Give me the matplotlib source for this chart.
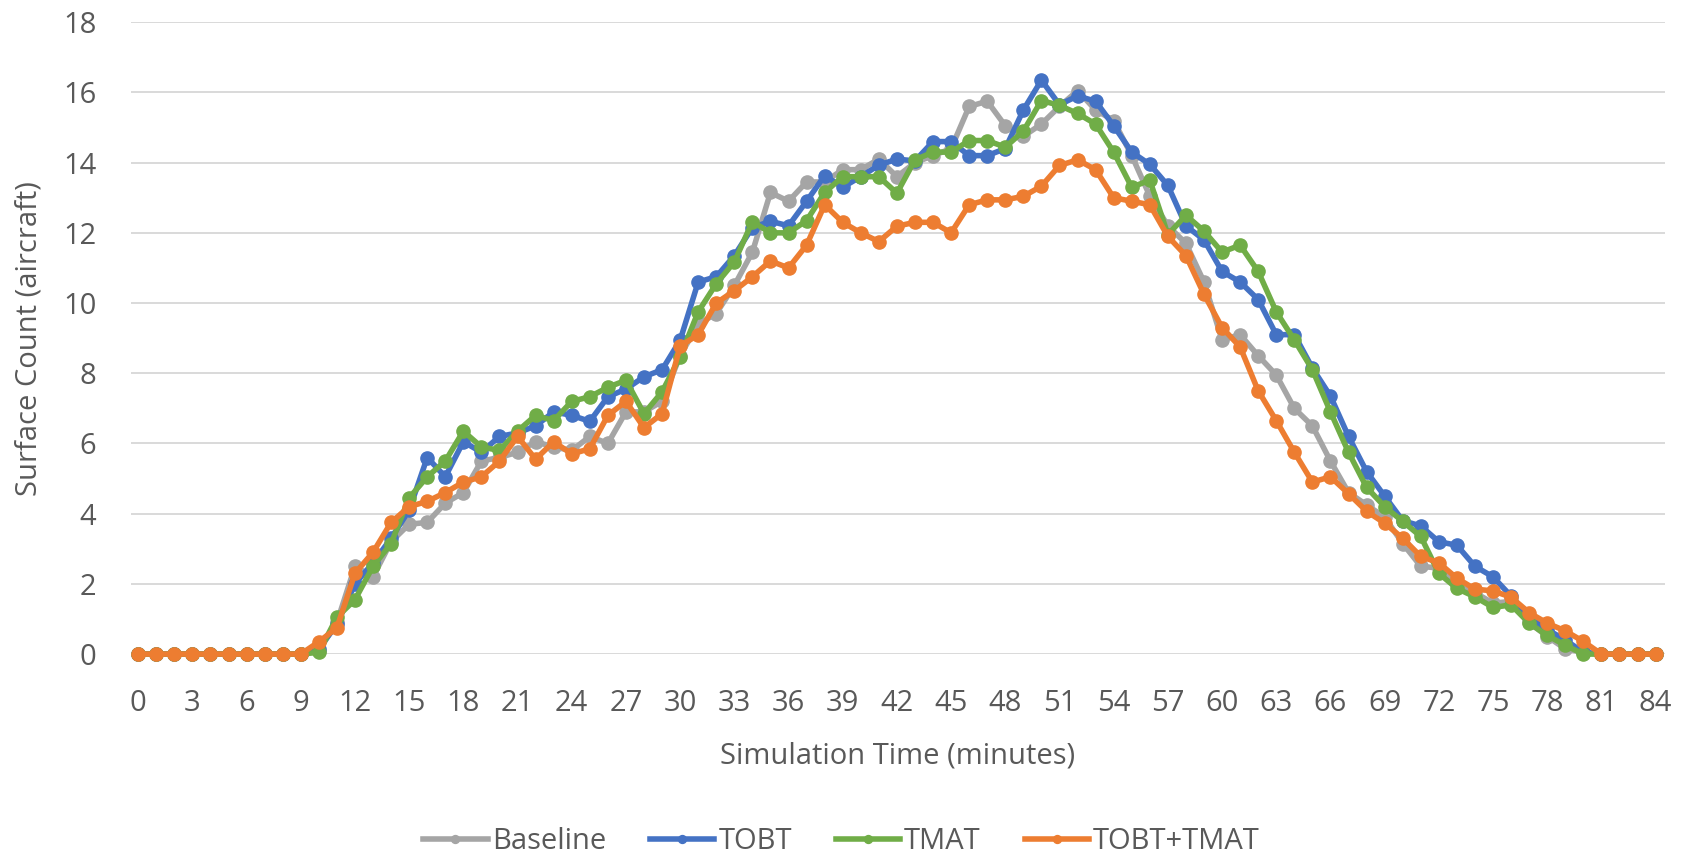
import matplotlib
matplotlib.use("Agg")
import matplotlib.pyplot as plt

plt.rcParams['font.family'] = ['Open Sans', 'DejaVu Sans']

minutes = list(range(85))
xticks = list(range(0, 85, 3))

baseline = [0]*10 + [0.1, 0.9, 2.5, 2.2, 3.2, 3.7, 3.75, 4.3, 4.6, 5.5,
    5.6, 5.75, 6.05, 5.9, 5.8, 6.2, 6.0, 6.9, 6.9, 7.2,
    8.5, 9.4, 9.7, 10.5, 11.45, 13.15, 12.9, 13.45, 13.45, 13.8,
    13.8, 14.1, 13.6, 14.0, 14.2, 14.4, 15.6, 15.75, 15.05, 14.75,
    15.1, 15.6, 16.05, 15.5, 15.2, 14.2, 13.05, 12.2, 11.7, 10.6,
    8.95, 9.1, 8.5, 7.95, 7.0, 6.5, 5.5, 4.6, 4.25, 3.9,
    3.15, 2.5, 2.45, 2.0, 1.75, 1.45, 1.5, 0.9, 0.5, 0.15,
    0.05, 0, 0, 0, 0]

tobt = [0]*10 + [0.15, 0.85, 2.0, 2.6, 3.3, 4.1, 5.6, 5.05, 6.05, 5.75,
    6.2, 6.3, 6.5, 6.9, 6.8, 6.63, 7.33, 7.55, 7.9, 8.1,
    8.94, 10.6, 10.75, 11.35, 12.15, 12.33, 12.2, 12.9, 13.63, 13.3,
    13.6, 13.93, 14.1, 14.05, 14.6, 14.6, 14.2, 14.2, 14.4, 15.5,
    16.35, 15.65, 15.9, 15.75, 15.05, 14.3, 13.95, 13.35, 12.2, 11.8,
    10.9, 10.6, 10.1, 9.1, 9.1, 8.15, 7.35, 6.2, 5.2, 4.5,
    3.8, 3.65, 3.2, 3.1, 2.5, 2.2, 1.65, 1.05, 0.7, 0.4,
    0.05, 0, 0, 0, 0]

tmat = [0]*10 + [0.05, 1.05, 1.55, 2.5, 3.15, 4.45, 5.05, 5.5, 6.35, 5.9,
    5.8, 6.35, 6.8, 6.65, 7.2, 7.33, 7.6, 7.8, 6.85, 7.47,
    8.47, 9.75, 10.55, 11.17, 12.32, 12.0, 12.0, 12.35, 13.15, 13.6,
    13.6, 13.6, 13.13, 14.08, 14.3, 14.3, 14.63, 14.63, 14.44, 14.9,
    15.77, 15.63, 15.4, 15.1, 14.3, 13.3, 13.5, 11.95, 12.5, 12.05,
    11.45, 11.65, 10.9, 9.75, 8.95, 8.1, 6.9, 5.75, 4.75, 4.2,
    3.78, 3.35, 2.3, 1.87, 1.63, 1.33, 1.4, 0.88, 0.53, 0.25,
    0.0, 0, 0, 0, 0]

tobt_tmat = [0]*10 + [0.35, 0.75, 2.3, 2.9, 3.75, 4.2, 4.35, 4.6, 4.9, 5.05,
    5.5, 6.2, 5.55, 6.05, 5.7, 5.85, 6.8, 7.2, 6.45, 6.85,
    8.77, 9.1, 10.0, 10.35, 10.75, 11.2, 11.0, 11.65, 12.8, 12.3,
    12.0, 11.75, 12.19, 12.3, 12.3, 12.0, 12.8, 12.94, 12.94, 13.04,
    13.33, 13.92, 14.08, 13.8, 13.0, 12.9, 12.8, 11.9, 11.35, 10.25,
    9.3, 8.75, 7.5, 6.65, 5.75, 4.9, 5.05, 4.57, 4.07, 3.73,
    3.3, 2.78, 2.6, 2.16, 1.85, 1.8, 1.62, 1.18, 0.88, 0.66,
    0.36, 0, 0, 0, 0]

series = [("Baseline", baseline, "#A5A5A5"),
          ("TOBT", tobt, "#4472C4"),
          ("TMAT", tmat, "#70AD47"),
          ("TOBT+TMAT", tobt_tmat, "#ED7D31")]

txt = "#595959"
fs = 21

fig = plt.figure(figsize=(16.9, 8.55), dpi=100)
ax = fig.add_axes([0.0775, 0.235, 0.9075, 0.739])

for name, vals, col in series:
    ax.plot(minutes, vals, color=col, lw=4, marker="o", ms=9.5, label=name,
            clip_on=False, solid_joinstyle="round")

ax.set_ylim(0, 18)
ax.set_xlim(-0.4, 84.5)
ax.set_yticks(range(0, 19, 2))
ax.set_xticks(xticks)
ax.grid(axis="y", color="#D9D9D9", lw=1.4)
ax.set_axisbelow(True)
for s in ax.spines.values():
    s.set_visible(False)
ax.tick_params(axis="y", length=0, labelsize=fs, colors=txt, pad=25)
ax.tick_params(axis="x", length=0, labelsize=fs, colors=txt, pad=25)
ax.set_xlabel("Simulation Time (minutes)", fontsize=fs, color=txt, labelpad=17)
ax.set_ylabel("Surface Count (aircraft)", fontsize=fs, color=txt, labelpad=14)

fig.legend(loc="center", bbox_to_anchor=(0.498, 0.016), ncol=4, frameon=False,
           fontsize=fs, labelcolor=txt, handlelength=2.2, handletextpad=0.15,
           columnspacing=1.5, markerscale=0.6)

fig.savefig("out.png", dpi=100)
